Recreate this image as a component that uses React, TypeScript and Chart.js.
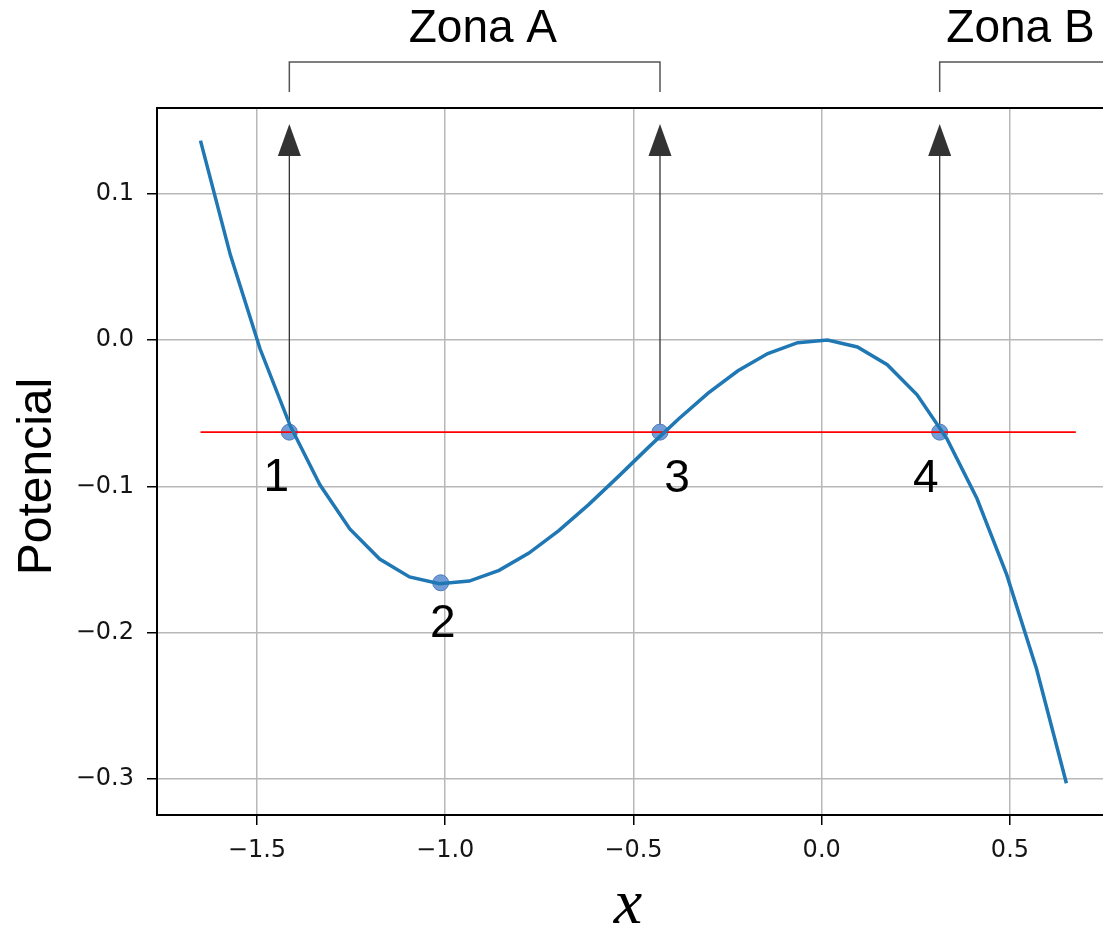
import React, { useEffect, useRef } from "react";
import { Chart, registerables } from "chart.js";

Chart.register(...registerables);

// ---- data ----
const curveX = [
  -1.65, -1.5707, -1.4914, -1.4121, -1.3328, -1.2534, -1.1741, -1.0948, -1.0155, -0.9362,
  -0.8569, -0.7776, -0.6983, -0.619, -0.5397, -0.4603, -0.381, -0.3017, -0.2224, -0.1431,
  -0.0638, 0.0155, 0.0948, 0.1741, 0.2534, 0.3328, 0.4121, 0.4914, 0.5707, 0.65,
];
const curveY = [
  0.1361, 0.0581, -0.0064, -0.0584, -0.099, -0.1291, -0.1497, -0.1619, -0.1665, -0.1647,
  -0.1574, -0.1456, -0.1303, -0.1125, -0.0932, -0.0734, -0.0542, -0.0364, -0.0211, -0.0093,
  -0.0019, -0.0001, -0.0048, -0.0169, -0.0375, -0.0676, -0.1082, -0.1603, -0.2248, -0.3028,
];
const energyLevel = -0.063;
const energyLineX = [-1.65, 0.675];
const markedX = [-1.414, -1.012, -0.4295, 0.3134];
const markedY = [-0.063, -0.1659, -0.063, -0.063];
const markedLabels = ["1", "2", "3", "4"];
const arrowFrom = [0, 2, 3];
const arrowTop = 0.1475;
const zoneNames = ["Zona A", "Zona B"];
const zoneStart = [-1.414, 0.3134];
const zoneEnd = [-0.4295, 1.0];
const zoneLabelX = [-0.9, 0.528];
const xTicks = [-1.5, -1.0, -0.5, 0.0, 0.5];
const yTicks = [0.1, 0.0, -0.1, -0.2, -0.3];
const xRange = [-1.7655, 0.791];
const yRange = [-0.3245, 0.1584];
const xTitle = "x";
const yTitle = "Potencial";

// ---- presentation ----
const W = 1140;
const H = 926;
const SANS = "'Liberation Sans', Arial, sans-serif";
const TICKFONT = "'DejaVu Sans', sans-serif";
// label offsets (px) relative to their marker: [dx, dy of baseline]
const labelOffsets = [
  [-13, 59],
  [2, 54],
  [17, 60],
  [-14, 60],
];

const fmt = (v: number) => {
  const s = Math.abs(v) < 1e-9 ? "0.0" : v.toFixed(1);
  return s.replace("-", "\u2212");
};

const annotPlugin = {
  id: "annot",
  beforeDatasetsDraw(chart: any) {
    const { ctx, scales } = chart;
    const xs = scales.x;
    const ys = scales.y;
    ctx.save();
    arrowFrom.forEach((i) => {
      const px = xs.getPixelForValue(markedX[i]);
      const py = ys.getPixelForValue(markedY[i]);
      const tip = ys.getPixelForValue(arrowTop);
      const headLen = 32;
      const halfW = 11.5;
      ctx.strokeStyle = "#333";
      ctx.lineWidth = 1.3;
      ctx.beginPath();
      ctx.moveTo(px, py);
      ctx.lineTo(px, tip + headLen - 1);
      ctx.stroke();
      ctx.fillStyle = "#333";
      ctx.beginPath();
      ctx.moveTo(px, tip);
      ctx.lineTo(px - halfW, tip + headLen);
      ctx.lineTo(px + halfW, tip + headLen);
      ctx.closePath();
      ctx.fill();
    });
    ctx.restore();
  },
  afterDraw(chart: any) {
    const { ctx, scales, chartArea } = chart;
    const xs = scales.x;
    const ys = scales.y;
    const { left, top, right, bottom } = chartArea;
    ctx.save();
    // frame
    ctx.strokeStyle = "#000";
    ctx.lineWidth = 2;
    ctx.strokeRect(left, top, right - left, bottom - top);

    // brackets and zone names
    ctx.strokeStyle = "#555";
    ctx.lineWidth = 1.5;
    zoneNames.forEach((name, i) => {
      const a = xs.getPixelForValue(zoneStart[i]);
      const b = xs.getPixelForValue(zoneEnd[i]);
      const yTop = top - 46;
      const yBot = top - 16;
      ctx.beginPath();
      ctx.moveTo(a, yBot);
      ctx.lineTo(a, yTop);
      ctx.lineTo(b, yTop);
      ctx.lineTo(b, yBot);
      ctx.stroke();
      ctx.fillStyle = "#000";
      ctx.font = `46px ${SANS}`;
      ctx.textAlign = "center";
      ctx.textBaseline = "alphabetic";
      ctx.fillText(name, xs.getPixelForValue(zoneLabelX[i]), top - 66);
    });

    // point labels
    ctx.font = `46px ${SANS}`;
    ctx.fillStyle = "#000";
    ctx.textAlign = "center";
    ctx.textBaseline = "alphabetic";
    markedLabels.forEach((t, i) => {
      const px = xs.getPixelForValue(markedX[i]);
      const py = ys.getPixelForValue(markedY[i]);
      ctx.fillText(t, px + labelOffsets[i][0], py + labelOffsets[i][1]);
    });

    // y title
    ctx.save();
    ctx.translate(51, (top + bottom) / 2 + 15);
    ctx.rotate(-Math.PI / 2);
    ctx.font = `48px ${SANS}`;
    ctx.textAlign = "center";
    ctx.textBaseline = "alphabetic";
    ctx.fillText(yTitle, 0, 0);
    ctx.restore();

    // x title
    ctx.font = `italic 64px 'Liberation Serif', 'DejaVu Serif', serif`;
    ctx.textAlign = "center";
    ctx.textBaseline = "alphabetic";
    ctx.fillText(xTitle, 628, 923);
    ctx.restore();
  },
};

export default function App() {
  const ref = useRef<HTMLCanvasElement | null>(null);
  useEffect(() => {
    if (!ref.current) return;
    const chart = new Chart(ref.current, {
      type: "line",
      data: {
        datasets: [
          {
            label: "curve",
            data: curveX.map((x, i) => ({ x, y: curveY[i] })),
            borderColor: "#1f77b4",
            borderWidth: 3.5,
            pointRadius: 0,
            tension: 0,
            fill: false,
          },
          {
            label: "energy",
            data: energyLineX.map((x) => ({ x, y: energyLevel })),
            borderColor: "#ff0000",
            borderWidth: 1.8,
            pointRadius: 0,
            fill: false,
          },
          {
            label: "points",
            data: markedX.map((x, i) => ({ x, y: markedY[i] })),
            showLine: false,
            pointRadius: 8,
            pointBackgroundColor: "#719cd6",
            pointBorderColor: "#4d7bbd",
            pointBorderWidth: 1,
          },
        ],
      },
      options: {
        animation: false,
        responsive: false,
        devicePixelRatio: 1,
        layout: { padding: { left: 0, top: 108, right: W - 1119.5, bottom: 0 } },
        plugins: { legend: { display: false }, tooltip: { enabled: false } },
        scales: {
          x: {
            type: "linear",
            min: xRange[0],
            max: xRange[1],
            afterBuildTicks: (s: any) => {
              s.ticks = xTicks.map((v) => ({ value: v }));
            },
            afterFit: (s: any) => {
              s.height = H - 815;
            },
            ticks: {
              callback: (v: any) => fmt(Number(v)),
              font: { family: TICKFONT, size: 24 },
              color: "#151515",
              padding: 11,
              maxRotation: 0,
              autoSkip: false,
            },
            grid: {
              color: "#b8b8b8",
              lineWidth: 1.5,
              tickLength: 10,
              tickColor: "#000",
              tickWidth: 1.5,
            },
            border: { display: false },
          },
          y: {
            type: "linear",
            min: yRange[0],
            max: yRange[1],
            afterBuildTicks: (s: any) => {
              s.ticks = yTicks.map((v) => ({ value: v }));
            },
            afterFit: (s: any) => {
              s.width = 157;
            },
            ticks: {
              callback: (v: any) => fmt(Number(v)),
              font: { family: TICKFONT, size: 24 },
              color: "#151515",
              padding: 13,
              autoSkip: false,
            },
            grid: {
              color: "#b8b8b8",
              lineWidth: 1.5,
              tickLength: 10,
              tickColor: "#000",
              tickWidth: 1.5,
            },
            border: { display: false },
          },
        },
      },
      plugins: [annotPlugin],
    });
    return () => chart.destroy();
  }, []);
  return (
    <div
      style={{
        position: "fixed",
        left: 0,
        top: 0,
        width: 1103,
        height: 926,
        overflow: "hidden",
        background: "#fff",
      }}
    >
      <canvas ref={ref} width={W} height={H} style={{ display: "block" }} />
    </div>
  );
}
